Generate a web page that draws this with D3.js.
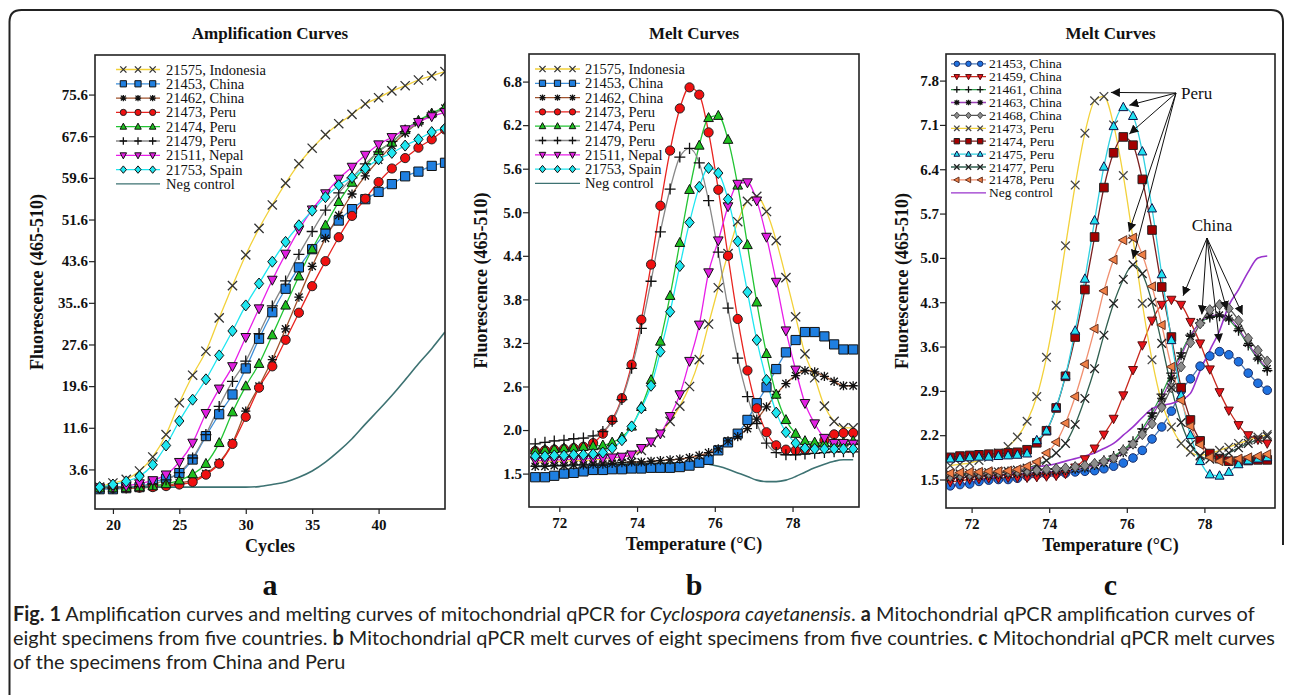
<!DOCTYPE html>
<html>
<head>
<meta charset="utf-8">
<script src="https://cdn.jsdelivr.net/npm/d3@7"></script>
<style>
  body { margin: 0; background: #fff; }
  svg text { font-family: "Liberation Serif", "Times New Roman", serif; fill: #111; }
  .cap text { font-family: Lato, "Open Sans", sans-serif; }
</style>
</head>
<body>
<svg id="fig" width="1293" height="695"></svg>
<script>
// ---------- DATA ----------
// panel a : amplification curves (fluorescence per cycle)
const ampCycles = [19,20,21,22,23,24,25,26,27,28,29,30,31,32,33,34,35,36,37,38,39,40,41,42,43,44,45];
const amp21575 = [0.2,1.0,1.7,3.3,6.0,10.3,16.4,21.7,26.3,32.7,38.9,44.8,49.9,54.4,58.6,62.3,65.3,67.9,70.0,71.8,73.8,75.0,76.3,77.3,78.4,79.2,80.0];
const amp21453 = [-0.2,-0.2,0,0.2,1.2,1.8,2.9,5.5,10.0,14.2,18.0,23.0,28.7,33.8,38.3,42.4,45.9,48.9,51.4,53.6,55.5,56.9,58.4,59.9,60.8,61.9,62.5];
const amp21462 = [0,0,0,0.1,0.2,0.5,1.0,1.5,2.8,4.9,8.7,14.8,19.6,24.7,30.6,36.7,42.6,48.0,52.4,56.5,60.0,63.0,65.8,68.2,70.2,71.8,73.0];
const amp21473 = [0,0,0,0.1,0.2,0.4,0.7,1.2,2.6,4.7,8.5,13.7,19.3,23.4,28.5,33.7,38.8,43.6,48.2,52.3,55.6,58.8,61.4,63.4,65.4,67.0,68.9];
const amp21474 = [0,0,0.1,0.2,0.4,0.8,1.5,2.7,4.7,8.7,14.6,19.6,23.9,29.4,35.1,40.7,45.9,50.5,55.0,58.7,61.7,64.8,66.4,68.8,70.6,72.0,73.2];
const amp21479 = [0,0,0.1,0.3,0.8,1.6,3.0,5.8,10.3,15.7,20.5,24.4,29.7,35.0,39.8,44.9,49.3,53.4,56.7,59.6,62.3,64.6,66.6,68.5,70.2,71.7,72.9];
const amp21511 = [0.1,0.2,0.4,0.9,1.5,2.6,5.0,8.7,14.4,19.1,23.4,29.0,34.5,40.0,45.0,49.6,53.5,56.6,59.4,61.7,64.0,66.0,67.4,68.9,70.3,71.4,72.2];
const amp21753 = [0.2,0.7,1.3,2.3,4.5,8.2,12.9,17.0,20.9,25.5,30.2,35.1,39.3,43.5,47.3,50.5,53.3,55.9,58.2,59.7,61.4,63.2,64.4,65.8,67.0,68.4,69.1];
const ampNeg   = [0.2,0.2,0.2,0.2,0.2,0.2,0.2,0.2,0.2,0.2,0.2,0.2,0.3,0.7,1.2,2.1,3.3,5.0,7.1,9.5,12.3,15.0,17.8,20.8,23.9,26.8,30.0];
const ampYTicks = [3.6,11.6,19.6,27.6,35.6,43.6,51.6,59.6,67.6,75.6];
const ampYLabels = ["3.6","11.6","19.6","27.6","35..6","43.6","51.6","59.6","67.6","75.6"];
const ampXTicks = [20,25,30,35,40];

// panel b : melt curves, eight specimens
const meltTempsB = [71.38,71.63,71.87,72.12,72.37,72.62,72.87,73.12,73.36,73.61,73.86,74.11,74.36,74.60,74.85,75.10,75.35,75.60,75.84,76.09,76.34,76.59,76.84,77.08,77.33,77.58,77.83,78.08,78.32,78.57,78.82,79.07,79.31,79.56];
const meltB21575 = [1.56,1.56,1.57,1.57,1.58,1.58,1.59,1.60,1.61,1.63,1.66,1.72,1.83,1.96,2.12,2.33,2.60,2.97,3.46,3.96,4.43,4.87,5.15,5.22,5.01,4.61,4.10,3.56,3.05,2.72,2.33,2.12,2.03,2.03];
const meltB21453 = [1.35,1.35,1.37,1.40,1.41,1.43,1.45,1.45,1.46,1.46,1.47,1.47,1.48,1.48,1.48,1.49,1.51,1.55,1.59,1.72,1.83,1.95,2.14,2.37,2.59,2.84,3.07,3.24,3.35,3.35,3.29,3.18,3.11,3.11];
const meltB21462 = [1.50,1.50,1.51,1.51,1.52,1.52,1.53,1.53,1.54,1.55,1.56,1.56,1.57,1.58,1.59,1.60,1.62,1.65,1.69,1.74,1.85,1.91,2.02,2.15,2.32,2.49,2.64,2.75,2.82,2.80,2.74,2.67,2.61,2.61];
const meltB21473 = [1.71,1.72,1.73,1.74,1.75,1.77,1.82,1.95,2.14,2.44,2.90,3.52,4.28,5.09,5.85,6.43,6.72,6.62,6.10,5.31,4.40,3.53,2.82,2.30,1.97,1.79,1.73,1.72,1.73,1.78,1.86,1.94,1.96,1.96];
const meltB21474 = [1.72,1.73,1.74,1.75,1.76,1.77,1.78,1.79,1.83,1.90,2.05,2.32,2.69,3.22,3.85,4.58,5.31,5.92,6.30,6.33,6.00,5.37,4.55,3.76,3.05,2.49,2.14,1.95,1.85,1.83,1.82,1.82,1.83,1.85];
const meltB21479 = [1.81,1.83,1.85,1.86,1.88,1.89,1.92,1.98,2.12,2.42,2.85,3.40,4.05,4.73,5.32,5.76,5.88,5.68,5.16,4.45,3.68,2.99,2.46,2.09,1.82,1.69,1.66,1.66,1.67,1.68,1.69,1.70,1.70,1.70];
const meltB21511 = [1.58,1.58,1.59,1.59,1.60,1.60,1.61,1.61,1.62,1.63,1.66,1.75,1.84,1.95,2.19,2.49,2.95,3.45,4.17,4.61,5.08,5.39,5.41,5.16,4.66,4.04,3.37,2.83,2.37,2.09,1.89,1.82,1.82,1.81];
const meltB21753 = [1.64,1.64,1.65,1.65,1.66,1.66,1.67,1.69,1.75,1.86,2.05,2.30,2.61,3.08,3.63,4.26,4.86,5.35,5.61,5.54,5.18,4.60,3.90,3.24,2.69,2.24,1.97,1.82,1.75,1.74,1.74,1.74,1.74,1.74];
const meltBNeg   = [1.50,1.50,1.51,1.51,1.51,1.52,1.52,1.52,1.53,1.53,1.53,1.54,1.54,1.54,1.55,1.55,1.55,1.55,1.53,1.50,1.46,1.41,1.36,1.31,1.29,1.29,1.31,1.36,1.42,1.48,1.53,1.57,1.59,1.59];
const meltBYTicks = [1.4,2.0,2.6,3.2,3.8,4.4,5.0,5.6,6.2,6.8];
const meltBYLabels = ["1.5","2.0","2.6","3.2","3.8","4.4","5.0","5.6","6.2","6.8"];
const meltXTicks = [72,74,76,78];

// panel c : melt curves, China and Peru
const meltTempsC = [71.45,71.70,71.95,72.19,72.44,72.69,72.94,73.18,73.43,73.68,73.93,74.18,74.42,74.67,74.92,75.17,75.41,75.66,75.91,76.16,76.40,76.65,76.90,77.15,77.40,77.64,77.89,78.14,78.39,78.63,78.88,79.13,79.38,79.62];
const meltC21453 = [1.40,1.42,1.43,1.47,1.49,1.50,1.50,1.52,1.55,1.57,1.58,1.59,1.60,1.62,1.63,1.64,1.67,1.71,1.76,1.84,1.96,2.14,2.33,2.58,2.90,3.09,3.29,3.45,3.52,3.47,3.36,3.18,3.02,2.91];
const meltC21459 = [1.46,1.48,1.50,1.51,1.52,1.52,1.53,1.53,1.53,1.54,1.55,1.56,1.59,1.69,1.82,1.99,2.21,2.46,2.83,3.23,3.62,4.01,4.26,4.34,4.26,3.99,3.65,3.24,2.88,2.59,2.36,2.20,2.13,2.07];
const meltC21461 = [1.56,1.57,1.58,1.59,1.60,1.61,1.62,1.63,1.64,1.65,1.66,1.67,1.68,1.70,1.72,1.75,1.80,1.87,1.97,2.10,2.30,2.55,2.85,3.18,3.50,3.78,3.97,4.06,4.08,4.02,3.85,3.62,3.40,3.22];
const meltC21463 = [1.52,1.53,1.54,1.55,1.56,1.57,1.58,1.59,1.60,1.61,1.62,1.63,1.64,1.66,1.68,1.72,1.76,1.83,1.92,2.05,2.25,2.50,2.78,3.10,3.45,3.76,3.98,4.08,4.10,4.05,3.88,3.65,3.42,3.25];
const meltC21468 = [1.55,1.57,1.58,1.59,1.60,1.61,1.62,1.63,1.64,1.65,1.66,1.67,1.68,1.70,1.72,1.75,1.79,1.84,1.96,2.06,2.21,2.38,2.64,2.95,3.28,3.66,3.96,4.18,4.26,4.20,4.01,3.73,3.54,3.37];
const meltC21473 = [1.72,1.74,1.76,1.80,1.85,1.92,2.02,2.17,2.42,2.81,3.43,4.25,5.19,6.15,6.97,7.48,7.55,7.10,6.30,5.30,4.28,3.39,2.72,2.33,2.07,1.93,1.88,1.91,1.96,2.01,2.07,2.12,2.17,2.21];
const meltC21474 = [1.85,1.87,1.88,1.89,1.90,1.91,1.92,1.93,1.97,2.08,2.27,2.63,3.13,3.75,4.50,5.33,6.11,6.66,6.91,6.78,6.24,5.44,4.54,3.75,2.95,2.44,2.11,1.91,1.83,1.79,1.79,1.80,1.81,1.81];
const meltC21475 = [1.83,1.84,1.85,1.86,1.86,1.87,1.88,1.89,1.91,2.12,2.27,2.64,3.14,3.85,4.67,5.59,6.44,7.08,7.38,7.24,6.68,5.78,4.74,3.70,2.83,2.20,1.79,1.58,1.56,1.62,1.74,1.80,1.83,1.85];
const meltC21477 = [1.58,1.59,1.60,1.60,1.61,1.62,1.63,1.65,1.68,1.73,1.80,1.92,2.07,2.37,2.78,3.25,3.78,4.28,4.66,4.89,4.75,4.30,3.65,2.95,2.40,2.05,1.87,1.82,1.85,1.92,2.00,2.07,2.13,2.18];
const meltC21478 = [1.60,1.61,1.62,1.62,1.63,1.63,1.64,1.66,1.71,1.78,1.92,2.09,2.39,2.81,3.32,3.88,4.48,4.97,5.28,5.32,5.05,4.55,3.94,3.28,2.75,2.34,2.05,1.85,1.79,1.80,1.83,1.85,1.87,1.90];
const meltCNeg   = [1.39,1.42,1.45,1.48,1.52,1.55,1.59,1.62,1.66,1.70,1.72,1.75,1.79,1.83,1.87,1.92,1.99,2.07,2.20,2.33,2.48,2.62,2.67,2.70,2.76,2.86,3.22,3.54,3.85,4.25,4.50,4.78,5.00,5.03];
const meltCYTicks = [1.5,2.2,2.9,3.6,4.3,5.0,5.7,6.4,7.1,7.8];

// ---------- SERIES TABLES ----------
const seriesA = [
  {name: "21575, Indonesia", values: amp21575, color: "#f2d13a", marker: "x", fill: "none", stroke: "#333"},
  {name: "21453, China",     values: amp21453, color: "#3d8ed8", marker: "square", fill: "#1f7fe0", stroke: "#111"},
  {name: "21462, China",     values: amp21462, color: "#a0522d", marker: "star", fill: "none", stroke: "#111"},
  {name: "21473, Peru",      values: amp21473, color: "#e8231f", marker: "circle", fill: "#f01010", stroke: "#222"},
  {name: "21474, Peru",      values: amp21474, color: "#22c433", marker: "triUp", fill: "#1fc01f", stroke: "#111"},
  {name: "21479, Peru",      values: amp21479, color: "#888888", marker: "plus", fill: "none", stroke: "#111"},
  {name: "21511, Nepal",     values: amp21511, color: "#e81ee8", marker: "triDown", fill: "#e020e0", stroke: "#111"},
  {name: "21753, Spain",     values: amp21753, color: "#1ee6f0", marker: "diamond", fill: "#1fe6f0", stroke: "#111"},
  {name: "Neg control",      values: ampNeg,   color: "#3d7272", marker: null}
];

const seriesB = [
  {name: "21575, Indonesia", values: meltB21575, color: "#f2d13a", marker: "x", fill: "none", stroke: "#333"},
  {name: "21453, China",     values: meltB21453, color: "#3d8ed8", marker: "square", fill: "#1f7fe0", stroke: "#111"},
  {name: "21462, China",     values: meltB21462, color: "#a0522d", marker: "star", fill: "none", stroke: "#111"},
  {name: "21473, Peru",      values: meltB21473, color: "#e8231f", marker: "circle", fill: "#f01010", stroke: "#222"},
  {name: "21474, Peru",      values: meltB21474, color: "#22c433", marker: "triUp", fill: "#1fc01f", stroke: "#111"},
  {name: "21479, Peru",      values: meltB21479, color: "#888888", marker: "plus", fill: "none", stroke: "#111"},
  {name: "21511, Nepal",     values: meltB21511, color: "#e81ee8", marker: "triDown", fill: "#e020e0", stroke: "#111"},
  {name: "21753, Spain",     values: meltB21753, color: "#1ee6f0", marker: "diamond", fill: "#1fe6f0", stroke: "#111"},
  {name: "Neg control",      values: meltBNeg,   color: "#3d7272", marker: null}
];

const seriesC = [
  {name: "21453, China", values: meltC21453, color: "#4a78b8", marker: "circle", fill: "#1f72e0", stroke: "#1a2d66"},
  {name: "21459, China", values: meltC21459, color: "#c8281e", marker: "triDown", fill: "#e8141a", stroke: "#551111"},
  {name: "21461, China", values: meltC21461, color: "#2e9a4a", marker: "plus", fill: "none", stroke: "#111"},
  {name: "21463, China", values: meltC21463, color: "#9b3fb8", marker: "star", fill: "none", stroke: "#111"},
  {name: "21468, China", values: meltC21468, color: "#555555", marker: "diamond", fill: "#8c8c8c", stroke: "#444"},
  {name: "21473, Peru",  values: meltC21473, color: "#f2d13a", marker: "x", fill: "none", stroke: "#444"},
  {name: "21474, Peru",  values: meltC21474, color: "#7a1f1f", marker: "square", fill: "#a40000", stroke: "#222"},
  {name: "21475, Peru",  values: meltC21475, color: "#30d0e0", marker: "triUp", fill: "#22e2f2", stroke: "#114"},
  {name: "21477, Peru",  values: meltC21477, color: "#2f5f4f", marker: "x", fill: "none", stroke: "#222"},
  {name: "21478, Peru",  values: meltC21478, color: "#f09070", marker: "triLeft", fill: "#f07f45", stroke: "#663322"},
  {name: "Neg control",  values: meltCNeg,   color: "#9933cc", marker: null}
];

// ---------- HELPERS ----------
const svg = d3.select("#fig");
const lineMarkers = new Set(["plus", "x", "star"]);

function markerPath(type, r) {
  switch (type) {
    case "circle": return d3.symbol(d3.symbolCircle, Math.PI * r * r)();
    case "square": return `M${-r},${-r}H${r}V${r}H${-r}Z`;
    case "triUp": return `M0,${-r * 1.15}L${r * 1.05},${r * 0.8}L${-r * 1.05},${r * 0.8}Z`;
    case "triDown": return `M0,${r * 1.15}L${r * 1.05},${-r * 0.8}L${-r * 1.05},${-r * 0.8}Z`;
    case "triLeft": return `M${-r * 1.15},0L${r * 0.8},${-r * 1.05}L${r * 0.8},${r * 1.05}Z`;
    case "diamond": return `M0,${-r * 1.2}L${r},0L0,${r * 1.2}L${-r},0Z`;
    case "plus": return `M${-r * 1.2},0H${r * 1.2}M0,${-r * 1.2}V${r * 1.2}`;
    case "x": return `M${-r},${-r}L${r},${r}M${-r},${r}L${r},${-r}`;
    case "star": {
      const d = r * 0.8;
      return `M${-r},0H${r}M0,${-r}V${r}M${-d},${-d}L${d},${d}M${-d},${d}L${d},${-d}`;
    }
  }
  return "";
}

function drawMarker(g, s, cx, cy, r) {
  g.append("path")
    .attr("d", markerPath(s.marker, r))
    .attr("transform", `translate(${cx},${cy})`)
    .attr("fill", lineMarkers.has(s.marker) ? "none" : s.fill)
    .attr("stroke", s.stroke)
    .attr("stroke-width", lineMarkers.has(s.marker) ? 1.3 : 1);
}

// arrow head
svg.append("defs").append("marker")
  .attr("id", "arrow").attr("viewBox", "0 0 10 10")
  .attr("refX", 10).attr("refY", 5)
  .attr("markerWidth", 9).attr("markerHeight", 9)
  .attr("markerUnits", "userSpaceOnUse")
  .attr("orient", "auto")
  .append("path").attr("d", "M0,0L10,5L0,10Z").attr("fill", "#111");

function drawPanel(p) {
  const x = d3.scaleLinear().domain(p.xDomain).range([p.left, p.right]);
  const y = d3.scaleLinear().domain(p.yDomain).range([p.bottom, p.top]);
  const g = svg.append("g");

  svg.select("defs").append("clipPath").attr("id", "clip-" + p.id)
    .append("rect")
    .attr("x", p.left).attr("y", p.top)
    .attr("width", p.right - p.left).attr("height", p.bottom - p.top);

  // title
  g.append("text")
    .attr("x", (p.left + p.right) / 2).attr("y", 39)
    .attr("text-anchor", "middle")
    .style("font-size", "17px").style("font-weight", "bold")
    .text(p.title);

  // axes
  const xAxis = d3.axisBottom(x).tickValues(p.xTicks).tickSize(5).tickPadding(5).tickFormat(d3.format("d"));
  const gx = g.append("g").attr("transform", `translate(0,${p.bottom})`).call(xAxis);
  const yAxis = d3.axisLeft(y).tickValues(p.yTicks).tickSize(6).tickPadding(1)
    .tickFormat((d, i) => p.yLabels ? p.yLabels[i] : d3.format(".1f")(d));
  const gy = g.append("g").attr("transform", `translate(${p.left},0)`).call(yAxis);
  [gx, gy].forEach(a => {
    a.select(".domain").remove();
    a.selectAll(".tick line").attr("stroke", "#222").attr("stroke-width", 1.2);
    a.selectAll(".tick text")
      .style("font-family", '"Liberation Serif", "Times New Roman", serif')
      .style("font-size", "15px").style("font-weight", "bold").attr("fill", "#111");
  });

  g.append("text")
    .attr("x", (p.left + p.right) / 2).attr("y", p.bottom + 43)
    .attr("text-anchor", "middle")
    .style("font-size", "18px").style("font-weight", "bold")
    .text(p.xLabel);
  g.append("text")
    .attr("transform", `translate(${p.yLabelX},${(p.top + p.bottom) / 2}) rotate(-90)`)
    .attr("text-anchor", "middle").attr("dominant-baseline", "central")
    .style("font-size", "18px").style("font-weight", "bold")
    .text("Fluorescence (465-510)");
  g.append("text")
    .attr("x", (p.left + p.right) / 2).attr("y", 595)
    .attr("text-anchor", "middle")
    .style("font-size", "30px").style("font-weight", "bold")
    .text(p.letter);

  // curves
  const plot = g.append("g").attr("clip-path", `url(#clip-${p.id})`);
  const line = d3.line().x(d => x(d[0])).y(d => y(d[1])).curve(d3.curveMonotoneX);
  p.series.forEach(s => {
    plot.append("path")
      .datum(p.xs.map((v, i) => [v, s.values[i]]))
      .attr("d", line)
      .attr("fill", "none")
      .attr("stroke", s.color)
      .attr("stroke-width", s.marker ? 1.3 : 1.6);
  });
  p.series.forEach(s => {
    if (!s.marker) return;
    p.xs.forEach((v, i) => drawMarker(plot, s, x(v), y(s.values[i]), p.markerR));
  });

  // frame
  g.append("rect")
    .attr("x", p.left).attr("y", p.top)
    .attr("width", p.right - p.left).attr("height", p.bottom - p.top)
    .attr("fill", "none").attr("stroke", "#222").attr("stroke-width", 1.6);

  // legend
  const lg = g.append("g");
  p.series.forEach((s, i) => {
    const ly = p.legend.y + i * p.legend.step;
    lg.append("line")
      .attr("x1", p.legend.x0).attr("x2", p.legend.x1)
      .attr("y1", ly).attr("y2", ly)
      .attr("stroke", s.color).attr("stroke-width", 1.3);
    if (s.marker) {
      const w = p.legend.x1 - p.legend.x0;
      [1 / 6, 1 / 2, 5 / 6].forEach(f => drawMarker(lg, s, p.legend.x0 + w * f, ly, p.legend.r));
    }
    lg.append("text")
      .attr("x", p.legend.tx).attr("y", ly)
      .attr("dominant-baseline", "central")
      .style("font-size", p.legend.font + "px")
      .text(s.name);
  });
  return {x, y, g};
}

// ---------- PANELS ----------
drawPanel({
  id: "a", left: 95, right: 445, top: 55, bottom: 509,
  xDomain: [18.65, 45], yDomain: [-4.0, 83.2],
  xs: ampCycles, series: seriesA,
  xTicks: ampXTicks, yTicks: ampYTicks, yLabels: ampYLabels,
  title: "Amplification Curves", xLabel: "Cycles", letter: "a", yLabelX: 37,
  markerR: 4.6,
  legend: {x0: 116, x1: 160, tx: 166, y: 69.5, step: 14.3, r: 3.1, font: 14.5}
});

drawPanel({
  id: "b", left: 529, right: 859, top: 54, bottom: 507,
  xDomain: [71.22, 79.71], yDomain: [0.94, 7.18],
  xs: meltTempsB, series: seriesB,
  xTicks: meltXTicks, yTicks: meltBYTicks, yLabels: meltBYLabels,
  title: "Melt Curves", xLabel: "Temperature (°C)", letter: "b", yLabelX: 481,
  markerR: 4.6,
  legend: {x0: 535, x1: 580, tx: 585, y: 69, step: 14.3, r: 3.1, font: 14.5}
});

const pc = drawPanel({
  id: "c", left: 946, right: 1275, top: 54, bottom: 508,
  xDomain: [71.34, 79.82], yDomain: [1.05, 8.22],
  xs: meltTempsC, series: seriesC,
  xTicks: meltXTicks, yTicks: meltCYTicks, yLabels: null,
  title: "Melt Curves", xLabel: "Temperature (°C)", letter: "c", yLabelX: 902,
  markerR: 4.3,
  legend: {x0: 951, x1: 986, tx: 989, y: 63.8, step: 12.9, r: 2.7, font: 13.5}
});

// annotations in panel c: arrows to the Peru and China curves
const peruArrows = [
  {name: "21473, Peru", i: 16, dx: 7, dy: -4},
  {name: "21475, Peru", i: 18, dx: 6, dy: -2},
  {name: "21474, Peru", i: 18, dx: 6, dy: -3},
  {name: "21478, Peru", i: 19, dx: -4, dy: -6},
  {name: "21477, Peru", i: 19, dx: 0, dy: -6}
];
const chinaArrows = [
  {name: "21459, China", i: 24, dx: 2, dy: -9},
  {name: "21461, China", i: 27, dx: -8, dy: -3},
  {name: "21453, China", i: 28, dx: 0, dy: -9},
  {name: "21463, China", i: 29, dx: -2, dy: -8},
  {name: "21468, China", i: 30, dx: 4, dy: -6}
];
function drawArrows(list, ox, oy) {
  list.forEach(a => {
    const s = seriesC.find(d => d.name === a.name);
    pc.g.append("line")
      .attr("x1", ox).attr("y1", oy)
      .attr("x2", pc.x(meltTempsC[a.i]) + a.dx).attr("y2", pc.y(s.values[a.i]) + a.dy)
      .attr("stroke", "#111").attr("stroke-width", 1)
      .attr("marker-end", "url(#arrow)");
  });
}
drawArrows(peruArrows, 1176, 93);
drawArrows(chinaArrows, 1207, 238);
pc.g.append("text").attr("x", 1181).attr("y", 99).style("font-size", "17px").text("Peru");
pc.g.append("text").attr("x", 1212).attr("y", 231).attr("text-anchor", "middle").style("font-size", "17px").text("China");

// ---------- OUTER FRAME ----------
svg.append("path")
  .attr("d", "M9.5,695V22Q9.5,10 21.5,10H1271Q1283,10 1283,22V545")
  .attr("fill", "none").attr("stroke", "#222").attr("stroke-width", 2);

// ---------- CAPTION ----------
const capLines = [
  [["Fig. 1", "b"], [" Amplification curves and melting curves of mitochondrial qPCR for "], ["Cyclospora cayetanensis", "i"], [". "], ["a", "b"], [" Mitochondrial qPCR amplification curves of"]],
  [["eight specimens from five countries. "], ["b", "b"], [" Mitochondrial qPCR melt curves of eight specimens from five countries. "], ["c", "b"], [" Mitochondrial qPCR melt curves"]],
  [["of the specimens from China and Peru"]]
];
const capG = svg.append("g").attr("class", "cap");
const capNodes = capLines.map((parts, li) => {
  const t = capG.append("text").attr("x", 13).attr("y", 621 + li * 24)
    .style("font-size", "18px").attr("fill", "#231f20");
  parts.forEach(([txt, st]) => {
    const sp = t.append("tspan").text(txt).attr("fill", "#231f20");
    if (st === "b") sp.style("font-weight", "bold");
    if (st === "i") sp.style("font-style", "italic");
  });
  return t;
});
// size the caption so the first line spans the figure width
const len0 = capNodes[0].node().getComputedTextLength();
const capSize = 18 * 1243 / len0;
capNodes.forEach(t => t.style("font-size", capSize + "px"));
</script>
</body>
</html>
